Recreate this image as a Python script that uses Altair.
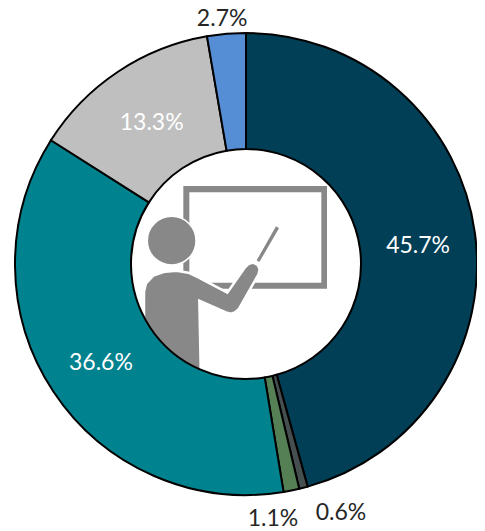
import altair as alt
import pandas as pd

labels = ["45.7%", "0.6%", "1.1%", "36.6%", "13.3%", "2.7%"]
values = [45.7, 0.6, 1.1, 36.6, 13.3, 2.7]
colors = ["#003F56", "#464F4F", "#558056", "#00828F", "#BFBFBF", "#558ED5"]
label_colors = ["#FFFFFF", "#262626", "#262626", "#FFFFFF", "#FFFFFF", "#262626"]
label_theta = [1.469, 2.777, 3.036, 4.114, 5.695, 6.186]
label_radius = [173.0, 266.5, 256.4, 175.6, 170.0, 246.0]

CX, CY = 238, 256
R_OUT, R_IN = 231, 115
ICON = "#888888"

df = pd.DataFrame({
    "order": list(range(len(values))),
    "value": values,
    "label": labels,
    "color": colors,
    "label_color": label_colors,
    "label_theta": label_theta,
    "label_radius": label_radius,
})


def shape(points):
    """Icon outline in the unit square of the centre circle (zoomed-crop units)."""
    out = []
    for i, (x, y) in enumerate(points):
        out.append(f"{'M' if i == 0 else 'L'}{(x - 378) / 345:.4f},{(y - 342) / 345:.4f}")
    return "".join(out) + "Z"


board = shape([(190, 108), (621, 108), (621, 416), (190, 416)]) + shape(
    [(208, 127), (208, 398), (604, 398), (604, 127)]
)
pointer = shape([(468, 229), (477, 235), (418, 336), (410, 331)])
body = shape([
    (72, 520), (72, 425), (78, 400), (100, 377), (135, 365), (170, 362), (205, 368),
    (235, 382), (322, 428), (375, 352), (385, 342), (400, 338), (413, 345), (419, 358),
    (416, 372), (356, 478), (345, 487), (332, 491), (318, 487), (238, 452), (243, 700),
    (100, 700),
])


def icon_part(path, stroke=None, sw=0):
    return alt.Chart(df.head(1)).mark_point(
        shape=path, filled=True, fill=ICON, stroke=stroke or ICON, strokeWidth=sw,
        size=(2 * R_IN) ** 2, opacity=1,
    ).encode(x=alt.value(CX), y=alt.value(CY))


head = alt.Chart(df.head(1)).mark_circle(
    size=2372, fill=ICON, stroke="white", strokeWidth=1.5, opacity=1
).encode(x=alt.value(120 + 155 / 3 - 8), y=alt.value(150 + 272 / 3 - 8))

arcs = alt.Chart(df).mark_arc(
    radius=R_OUT, radius2=R_IN, stroke="black", strokeWidth=2
).encode(
    theta=alt.Theta("value:Q", stack=True, scale=alt.Scale(domain=[0, 100])),
    order=alt.Order("order:Q"),
    fill=alt.Fill("color:N", scale=None),
    x=alt.value(CX),
    y=alt.value(CY),
)

text = alt.Chart(df).mark_text(font="Lato", fontSize=23, align="center", baseline="middle").encode(
    theta=alt.Theta("label_theta:Q", scale=None),
    radius=alt.Radius("label_radius:Q", scale=None),
    text="label:N",
    color=alt.Color("label_color:N", scale=None),
    x=alt.value(CX),
    y=alt.value(CY),
)

chart = alt.layer(
    icon_part(board),
    icon_part(pointer),
    icon_part(body, stroke="white", sw=2.5),
    head,
    arcs,
    text,
).properties(
    width=469, height=523, padding=0,
    autosize=alt.AutoSizeParams(type="none"),
).configure_view(stroke=None)

chart.save("out.html", embed_options={"renderer": "svg", "actions": False})
